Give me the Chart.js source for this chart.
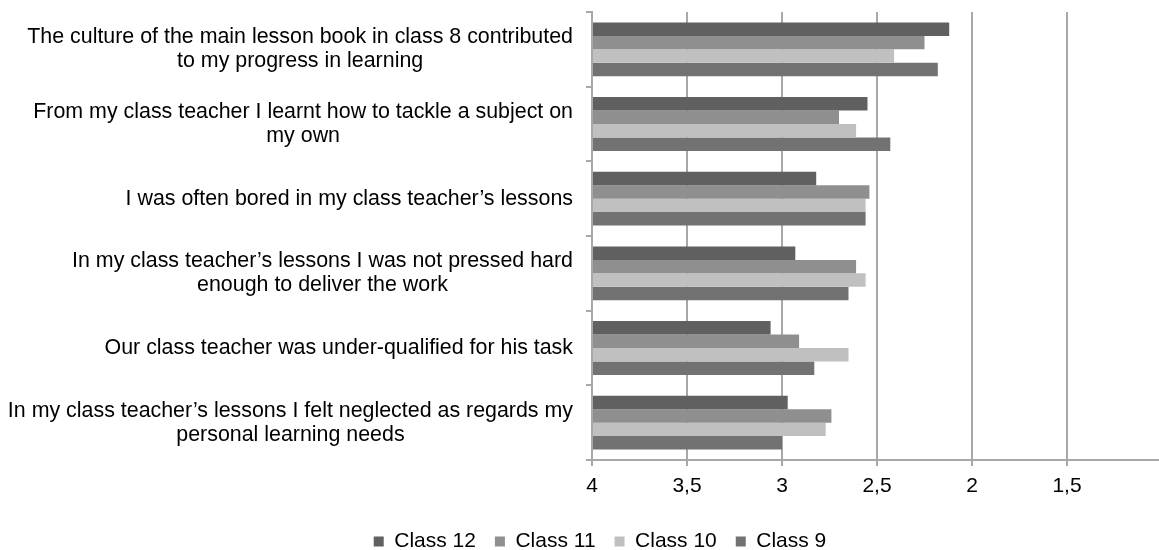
<!DOCTYPE html>
<html>
<head>
<meta charset="utf-8">
<script src="https://cdn.jsdelivr.net/npm/chart.js@4"></script>
<style>
  html, body { margin: 0; padding: 0; background: #fff; overflow: hidden; }
  #wrap { width: 1170px; height: 550px; position: relative; }
</style>
</head>
<body>
<div id="wrap"><canvas id="c"></canvas></div>
<script>
const categories = [
  ["The culture of the main lesson book in class 8 contributed", "to my progress in learning"],
  ["From my class teacher I learnt how to tackle a subject on", "my own"],
  ["I was often bored in my class teacher\u2019s lessons"],
  ["In my class teacher\u2019s lessons I was not pressed hard", "enough to deliver the work"],
  ["Our class teacher was under-qualified for his task"],
  ["In my class teacher\u2019s lessons I felt neglected as regards my", "personal learning needs"]
];
const seriesNames = ["Class 12", "Class 11", "Class 10", "Class 9"];
const class12 = [2.12, 2.55, 2.82, 2.93, 3.06, 2.97];
const class11 = [2.25, 2.70, 2.54, 2.61, 2.91, 2.74];
const class10 = [2.41, 2.61, 2.56, 2.56, 2.65, 2.77];
const class9  = [2.18, 2.43, 2.56, 2.65, 2.83, 3.00];
const tickValues = [4, 3.5, 3, 2.5, 2, 1.5, 1];

const colors = ["#606060", "#8f8f8f", "#c0c0c0", "#727272"];
const FONT = '"Liberation Sans", Arial, sans-serif';
const gridColor = "#a8a8a8";

const labelPlugin = {
  id: "catLabels",
  afterDraw(chart) {
    const scale = chart.scales.y;
    const ctx = chart.ctx;
    ctx.save();
    ctx.font = "21.4px " + FONT;
    ctx.fillStyle = "#000";
    ctx.textBaseline = "middle";
    ctx.textAlign = "center";
    const right = scale.right - 19;
    categories.forEach((lines, i) => {
      const y = scale.getPixelForTick(i);
      const w = Math.max(...lines.map(l => ctx.measureText(l).width));
      const cx = right - w / 2;
      const lh = 24;
      const y0 = y - (lines.length - 1) * lh / 2;
      lines.forEach((l, j) => ctx.fillText(l, cx, y0 + j * lh));
    });
    ctx.restore();
  }
};

const data = [class12, class11, class10, class9];

new Chart(document.getElementById("c"), {
  type: "bar",
  data: {
    labels: categories.map(l => l.join(" ")),
    datasets: seriesNames.map((n, i) => ({
      label: n,
      data: data[i],
      base: 4,
      backgroundColor: colors[i],
      borderWidth: 0,
      categoryPercentage: 0.72,
      barPercentage: 1.0
    }))
  },
  options: {
    indexAxis: "y",
    responsive: true,
    maintainAspectRatio: false,
    animation: false,
    layout: { padding: { top: 12, left: 30, right: 0, bottom: -12 } },
    scales: {
      x: {
        type: "linear",
        min: 1,
        max: 4,
        reverse: true,
        afterBuildTicks(scale) { scale.ticks = tickValues.map(v => ({ value: v })); },
        afterFit(scale) { scale.height = 52; },
        ticks: {
          font: { family: FONT, size: 21 },
          color: "#000",
          padding: 8,
          maxRotation: 0,
          callback: v => (v === 1 ? "" : String(v).replace(".", ","))
        },
        grid: { color: gridColor, lineWidth: 2, tickLength: 6 },
        border: { color: gridColor, width: 2 }
      },
      y: {
        afterFit(scale) { scale.width = 562; },
        ticks: { display: false },
        grid: { color: gridColor, lineWidth: 2, tickLength: 6, drawOnChartArea: false, offset: true },
        border: { color: gridColor, width: 2 }
      }
    },
    plugins: {
      legend: {
        position: "bottom",
        labels: {
          boxWidth: 10,
          boxHeight: 10,
          padding: 19,
          color: "#000",
          font: { family: FONT, size: 21 }
        }
      },
      tooltip: { enabled: false }
    }
  },
  plugins: [labelPlugin]
});
</script>
</body>
</html>
